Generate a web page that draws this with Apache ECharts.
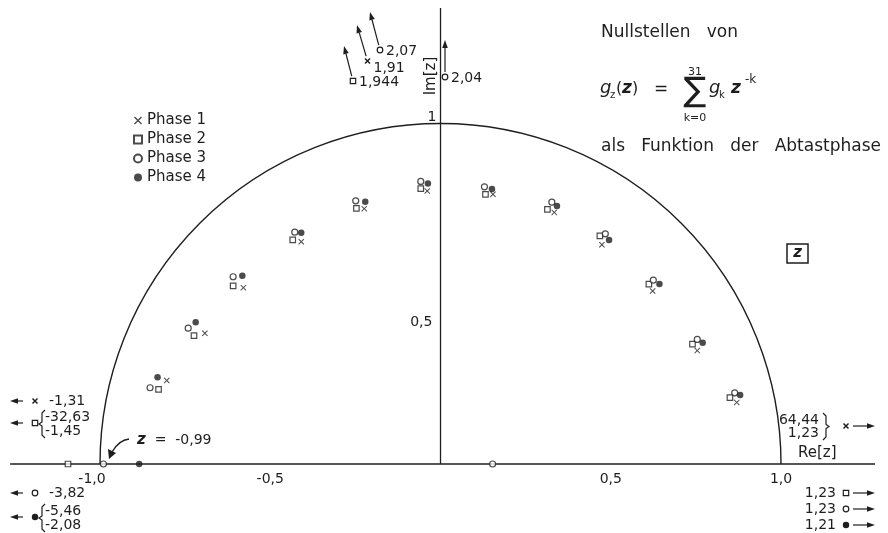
<!DOCTYPE html>
<html>
<head>
<meta charset="utf-8">
<script src="https://cdn.jsdelivr.net/npm/echarts@6/dist/echarts.min.js"></script>
<style>
  html, body { margin: 0; padding: 0; background: #fff; }
  #chart { width: 888px; height: 533px; }
</style>
</head>
<body>
<div id="chart"></div>
<script>
// zeros of g_z(z) inside the drawn range, [Re, Im], one list per sampling phase
const phase1 = [[-0.804, 0.245], [-0.692, 0.384], [-0.579, 0.518], [-0.409, 0.653], [-0.224, 0.750], [-0.039, 0.802],
                [0.154, 0.792], [0.334, 0.739], [0.474, 0.644], [0.623, 0.508], [0.754, 0.333], [0.870, 0.181]];
const phase2 = [[-0.828, 0.219], [-0.724, 0.377], [-0.609, 0.523], [-0.434, 0.658], [-0.247, 0.751], [-0.058, 0.809],
                [0.132, 0.792], [0.314, 0.748], [0.468, 0.670], [0.612, 0.528], [0.740, 0.352], [0.850, 0.195],
                [-1.094, 0]];
const phase3 = [[-0.853, 0.224], [-0.741, 0.399], [-0.609, 0.550], [-0.428, 0.681], [-0.249, 0.773], [-0.058, 0.830],
                [0.129, 0.814], [0.327, 0.769], [0.484, 0.676], [0.625, 0.540], [0.754, 0.366], [0.864, 0.209],
                [-0.99, 0], [0.153, 0]];
const phase4 = [[-0.831, 0.255], [-0.719, 0.416], [-0.582, 0.553], [-0.409, 0.679], [-0.221, 0.770], [-0.037, 0.824],
                [0.151, 0.808], [0.342, 0.758], [0.495, 0.658], [0.643, 0.529], [0.770, 0.356], [0.880, 0.203],
                [-0.885, 0]];

const phaseNames = ['Phase 1', 'Phase 2', 'Phase 3', 'Phase 4'];

const xTicks = [-1, -0.5, 0.5, 1];
const xTickLabels = ['-1,0', '-0,5', '0,5', '1,0'];
const yTicks = [0.5, 1];
const yTickLabels = ['0,5', '1'];

// zeros that lie outside the picture (written at the edges)
const offLeft = [['-1,31'], ['-32,63', '-1,45'], ['-3,82'], ['-5,46', '-2,08']];
const offRight = [['64,44', '1,23'], ['1,23'], ['1,23'], ['1,21']];
const offTop = [['1,944', 2], ['1,91', 1], ['2,07', 3], ['2,04', 3]];

const ink = '#1e1e1e';
const FONT = 'DejaVu Sans';
const crossPath = 'path://M0,1.2L1.2,0L5,3.8L8.8,0L10,1.2L6.2,5L10,8.8L8.8,10L5,6.2L1.2,10L0,8.8L3.8,5Z';

const symbolStyles = [
  { symbol: crossPath, symbolSize: 6, itemStyle: { color: ink } },
  { symbol: 'rect', symbolSize: 5.5, itemStyle: { color: '#fff', borderColor: ink, borderWidth: 1.2 } },
  { symbol: 'circle', symbolSize: 6, itemStyle: { color: '#fff', borderColor: ink, borderWidth: 1.2 } },
  { symbol: 'circle', symbolSize: 6.5, itemStyle: { color: ink } }
];

// small glyphs for the edge notes
function glyph(p, x, y) {
  if (p === 1) {
    return { type: 'group', children: [
      { type: 'line', shape: { x1: x - 2.5, y1: y - 2.5, x2: x + 2.5, y2: y + 2.5 }, style: { stroke: ink, lineWidth: 1.5 } },
      { type: 'line', shape: { x1: x - 2.5, y1: y + 2.5, x2: x + 2.5, y2: y - 2.5 }, style: { stroke: ink, lineWidth: 1.5 } }
    ] };
  }
  if (p === 2) return { type: 'rect', shape: { x: x - 2.7, y: y - 2.7, width: 5.4, height: 5.4 }, style: { fill: '#fff', stroke: ink, lineWidth: 1.2 } };
  if (p === 3) return { type: 'circle', shape: { cx: x, cy: y, r: 2.8 }, style: { fill: '#fff', stroke: ink, lineWidth: 1.2 } };
  return { type: 'circle', shape: { cx: x, cy: y, r: 3.2 }, style: { fill: ink } };
}

function arrow(x1, y1, x2, y2) {
  const a = Math.atan2(y2 - y1, x2 - x1), L = 8, W = 2.8;
  const bx = x2 - L * Math.cos(a), by = y2 - L * Math.sin(a);
  const px = -Math.sin(a) * W, py = Math.cos(a) * W;
  return { type: 'group', children: [
    { type: 'line', shape: { x1, y1, x2: bx, y2: by }, style: { stroke: ink, lineWidth: 1.2 } },
    { type: 'polygon', shape: { points: [[x2, y2], [bx + px, by + py], [bx - px, by - py]] }, style: { fill: ink } }
  ] };
}

// curly brace, dir = 1 opens to the right ("{"), -1 opens to the left ("}")
function brace(x, y0, y1, dir) {
  const m = (y0 + y1) / 2, d = 3 * dir;
  return { type: 'polyline', shape: { points: [[x + d, y0], [x, y0 + 3], [x, m - 2], [x - d, m], [x, m + 2], [x, y1 - 3], [x + d, y1]] },
           style: { stroke: ink, lineWidth: 1.2, fill: null } };
}

function txt(s, x, y, opts) {
  return { type: 'text', x, y, style: Object.assign({
    text: s, fontFamily: FONT, fontSize: 14, fill: ink,
    align: 'left', verticalAlign: 'middle', textAlign: 'left', textVerticalAlign: 'middle'
  }, opts || {}) };
}

const graphics = [];

// left edge: arrows pointing out to the left
const leftRows = [401, 423, 493, 517];
offLeft.forEach((vals, i) => {
  const y = leftRows[i];
  graphics.push(arrow(23, y, 10, y));
  graphics.push(glyph(i + 1, 35, y));
  if (vals.length === 1) {
    graphics.push(txt(vals[0], 49, y));
  } else {
    graphics.push(brace(42, y - 13, y + 15, 1));
    graphics.push(txt(vals[0], 45, y - 6));
    graphics.push(txt(vals[1], 45, y + 8));
  }
});

// right edge: arrows pointing out to the right
const rightRows = [426, 493, 509, 525];
offRight.forEach((vals, i) => {
  const y = rightRows[i];
  graphics.push(arrow(853, y, 875, y));
  graphics.push(glyph(i + 1, 846, y));
  if (vals.length === 1) {
    graphics.push(txt(vals[0], 836, y, { align: 'right', textAlign: 'right' }));
  } else {
    graphics.push(txt(vals[0], 819, y - 6, { align: 'right', textAlign: 'right' }));
    graphics.push(txt(vals[1], 819, y + 7, { align: 'right', textAlign: 'right' }));
    graphics.push(brace(826, y - 13, y + 14, -1));
  }
});

// top: zeros with large imaginary part
const topPos = [[353, 81, 344, 46], [367.5, 61, 357, 25], [380, 50, 370, 12], [445, 77, 445, 40]];
offTop.forEach((d, i) => {
  const [gx, gy, tx, ty] = topPos[i];
  const dx = tx - gx, dy = ty - gy, len = Math.hypot(dx, dy);
  graphics.push(arrow(gx + dx / len * 5, gy + dy / len * 5, tx, ty));
  graphics.push(glyph(d[1], gx, gy));
  const off = d[1] === 1 ? [6, 7] : [6, 1];
  graphics.push(txt(d[0], gx + off[0], gy + off[1]));
});

// z = -0,99 note with curved arrow
graphics.push({ type: 'bezierCurve', shape: { x1: 129, y1: 439, x2: 112, y2: 452, cpx1: 119, cpy1: 440 }, style: { stroke: ink, lineWidth: 1.3, fill: null } });
graphics.push({ type: 'polygon', shape: { points: [[109, 459], [108, 449], [116, 453]] }, style: { fill: ink } });
graphics.push(txt('{z|z}  =  -0,99', 137, 440, { rich: { z: { fontFamily: FONT, fontSize: 15, fontWeight: 'bold', fontStyle: 'italic', fill: ink } } }));

// title block
graphics.push(txt('Nullstellen   von', 601, 33, { fontSize: 17 }));
graphics.push(txt('als   Funktion   der   Abtastphase', 601, 147, { fontSize: 17 }));
const it = { fontStyle: 'italic', fontSize: 18 };
graphics.push(txt('g', 600, 88, it));
graphics.push(txt('z', 610, 95, { fontSize: 10 }));
graphics.push(txt('(', 616, 89, { fontSize: 16 }));
graphics.push(txt('z', 622, 89, { fontStyle: 'italic', fontWeight: 'bold', fontSize: 17 }));
graphics.push(txt(')', 632, 89, { fontSize: 16 }));
graphics.push(txt('=', 654, 90, { fontSize: 17 }));
graphics.push(txt('\u2211', 695, 92, { fontSize: 34, align: 'center', textAlign: 'center' }));
graphics.push(txt('31', 695, 72, { fontSize: 11, align: 'center', textAlign: 'center' }));
graphics.push(txt('k=0', 695, 118, { fontSize: 11, align: 'center', textAlign: 'center' }));
graphics.push(txt('g', 709, 88, it));
graphics.push(txt('k', 719, 95, { fontSize: 10 }));
graphics.push(txt('z', 731, 89, { fontStyle: 'italic', fontWeight: 'bold', fontSize: 17 }));
graphics.push(txt('-k', 745, 80, { fontSize: 12 }));

// boxed z
graphics.push({ type: 'rect', shape: { x: 787, y: 244, width: 21, height: 19 }, style: { fill: null, stroke: ink, lineWidth: 1.5 } });
graphics.push(txt('z', 797.5, 253.5, { fontSize: 15, fontWeight: 'bold', fontStyle: 'italic', align: 'center', textAlign: 'center' }));

// axis names
graphics.push(txt('Re[z]', 798, 453, { fontSize: 15 }));
graphics.push({ type: 'text', x: 431, y: 76, rotation: Math.PI / 2, style: {
  text: 'Im[z]', fontFamily: FONT, fontSize: 15, fill: ink, align: 'center', verticalAlign: 'middle', textAlign: 'center', textVerticalAlign: 'middle' } });

const chart = echarts.init(document.getElementById('chart'));

const zeroSeries = [phase1, phase2, phase3, phase4].map((d, i) => Object.assign({
  name: phaseNames[i], type: 'scatter', data: d, z: 5
}, symbolStyles[i]));

const tickLabelStyle = { show: true, fontFamily: FONT, fontSize: 14, color: ink, opacity: 1 };

const option = {
  animation: false,
  backgroundColor: '#fff',
  grid: { left: 0, right: 0, top: 0, bottom: 0, containLabel: false, outerBoundsMode: 'none' },
  legend: {
    data: phaseNames, orient: 'vertical', left: 128, top: 108,
    itemWidth: 8, itemHeight: 8, itemGap: 4,
    textStyle: { fontFamily: FONT, fontSize: 15, color: ink, lineHeight: 14 }
  },
  xAxis: { type: 'value', min: -1.2937, max: 1.3142, show: false },
  yAxis: { type: 'value', min: -0.2026, max: 1.3627, show: false },
  graphic: graphics,
  series: [
    { type: 'line', data: [[-1.264, 0], [1.276, 0]], symbol: 'none', lineStyle: { color: ink, width: 1.3 }, silent: true, z: 1 },
    { type: 'line', data: [[0, 0], [0, 1.339]], symbol: 'none', lineStyle: { color: ink, width: 1.3 }, silent: true, z: 1 },
    {
      type: 'custom', data: [[0, 0]], silent: true, z: 1,
      renderItem: (params, api) => {
        const c = api.coord([0, 0]);
        const r = api.coord([1, 0])[0] - c[0];
        return { type: 'arc', shape: { cx: c[0], cy: c[1], r, startAngle: Math.PI, endAngle: 2 * Math.PI },
                 style: { stroke: ink, lineWidth: 1.4, fill: null } };
      }
    },
    // tick labels of the real axis
    {
      type: 'scatter', silent: true, symbolSize: 0.1, itemStyle: { color: ink }, z: 3,
      data: xTicks.map((v, i) => ({
        value: [v, 0],
        label: Object.assign({}, tickLabelStyle, {
          position: 'bottom', distance: 8, formatter: xTickLabels[i], offset: v === -1 ? [-8, 0] : [0, 0]
        })
      }))
    },
    // tick labels of the imaginary axis
    {
      type: 'scatter', silent: true, symbolSize: 0.1, itemStyle: { color: ink }, z: 3,
      data: yTicks.map((v, i) => ({
        value: [0, v],
        label: Object.assign({}, tickLabelStyle, {
          position: 'left', distance: v === 1 ? 4 : 8, formatter: yTickLabels[i], offset: v === 1 ? [0, -6] : [0, 29]
        })
      }))
    }
  ].concat(zeroSeries)
};

chart.setOption(option);
</script>
</body>
</html>
